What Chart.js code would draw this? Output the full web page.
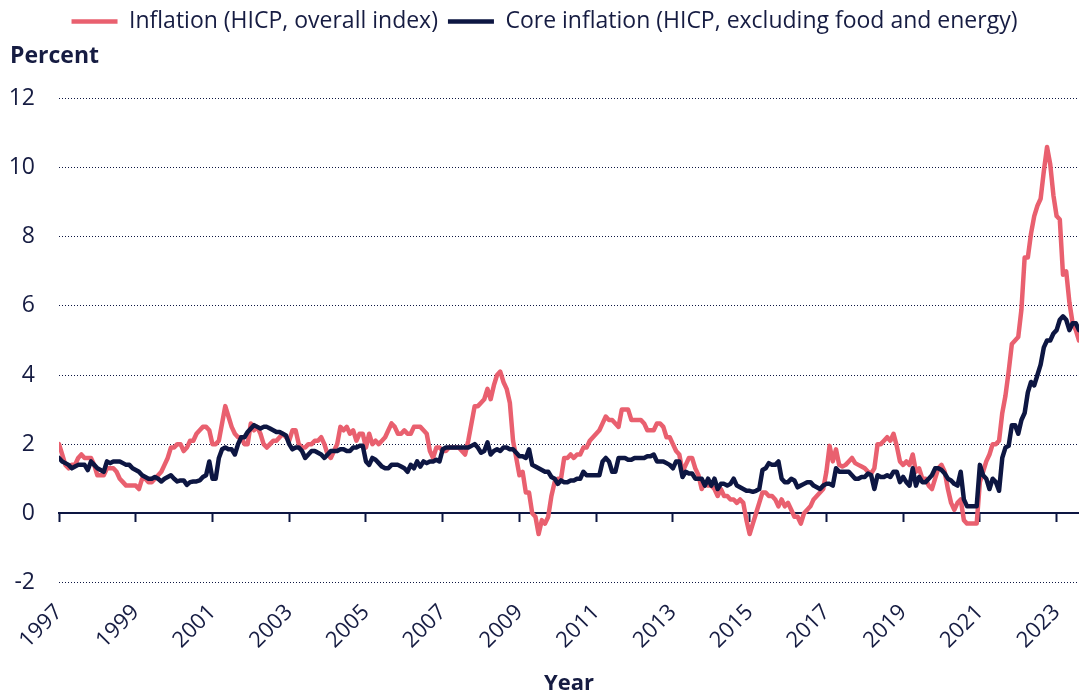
<!DOCTYPE html>
<html>
<head>
<meta charset="utf-8">
<script src="https://cdn.jsdelivr.net/npm/chart.js@4.4.0/dist/chart.umd.min.js"></script>
<style>
  html, body { margin: 0; padding: 0; background: #ffffff; }
  #wrap { width: 1079px; height: 693px; }
</style>
</head>
<body>
<div id="wrap"><canvas id="chart" width="1079" height="693"></canvas></div>
<script>
// monthly series, Jan 1997 .. Aug 2023
const startYear = 1997;
const tickYears = [1997, 1999, 2001, 2003, 2005, 2007, 2009, 2011, 2013, 2015, 2017, 2019, 2021, 2023];

// Inflation (HICP, overall index), %
const headline = [
  2.0, 1.7, 1.4, 1.3, 1.4, 1.4, 1.6, 1.7, 1.6, 1.6, 1.6, 1.4,   // 1997
  1.1, 1.1, 1.1, 1.3, 1.3, 1.3, 1.2, 1.0, 0.9, 0.8, 0.8, 0.8,   // 1998
  0.8, 0.7, 1.0, 1.0, 0.9, 0.9, 1.0, 1.1, 1.2, 1.4, 1.6, 1.9,   // 1999
  1.9, 2.0, 2.0, 1.8, 1.9, 2.1, 2.1, 2.3, 2.4, 2.5, 2.5, 2.4,   // 2000
  2.0, 2.0, 2.1, 2.6, 3.1, 2.8, 2.5, 2.3, 2.2, 2.2, 2.0, 2.0,   // 2001
  2.6, 2.4, 2.5, 2.3, 2.0, 1.9, 2.0, 2.1, 2.1, 2.2, 2.3, 2.2,   // 2002
  2.1, 2.4, 2.4, 2.0, 1.9, 1.9, 2.0, 2.0, 2.1, 2.1, 2.2, 2.0,   // 2003
  1.7, 1.6, 1.8, 2.0, 2.5, 2.4, 2.5, 2.3, 2.4, 2.1, 2.3, 2.3,   // 2004
  1.9, 2.3, 2.0, 2.1, 2.0, 2.1, 2.2, 2.4, 2.6, 2.5, 2.3, 2.3,   // 2005
  2.4, 2.3, 2.3, 2.5, 2.5, 2.5, 2.4, 2.3, 1.8, 1.6, 1.9, 1.9,   // 2006
  1.8, 1.8, 1.9, 1.9, 1.9, 1.9, 1.8, 1.7, 2.1, 2.6, 3.1, 3.1,   // 2007
  3.2, 3.3, 3.6, 3.3, 3.7, 4.0, 4.1, 3.8, 3.6, 3.2, 2.1, 1.6,   // 2008
  1.1, 1.2, 0.6, 0.6, 0.0, -0.1, -0.6, -0.2, -0.3, -0.1, 0.5, 0.9, // 2009
  1.0, 1.0, 1.6, 1.6, 1.7, 1.6, 1.7, 1.7, 1.9, 1.9, 2.1, 2.2,   // 2010
  2.3, 2.4, 2.6, 2.8, 2.7, 2.7, 2.6, 2.5, 3.0, 3.0, 3.0, 2.7,   // 2011
  2.7, 2.7, 2.7, 2.6, 2.4, 2.4, 2.4, 2.6, 2.6, 2.5, 2.2, 2.2,   // 2012
  2.0, 1.8, 1.7, 1.2, 1.4, 1.6, 1.6, 1.3, 1.1, 0.7, 0.9, 0.8,   // 2013
  0.8, 0.7, 0.5, 0.7, 0.5, 0.5, 0.4, 0.4, 0.3, 0.4, 0.3, -0.2,  // 2014
  -0.6, -0.3, 0.0, 0.3, 0.6, 0.6, 0.5, 0.5, 0.4, 0.2, 0.4, 0.2, // 2015
  0.3, 0.1, -0.1, -0.1, -0.3, 0.0, 0.1, 0.2, 0.4, 0.5, 0.6, 0.7, // 2016
  1.2, 1.95, 1.5, 1.85, 1.4, 1.35, 1.4, 1.5, 1.6, 1.45, 1.4, 1.35, // 2017
  1.3, 1.2, 1.15, 1.3, 2.0, 2.0, 2.1, 2.2, 2.1, 2.3, 1.95, 1.5, // 2018
  1.4, 1.5, 1.4, 1.7, 1.2, 1.3, 1.0, 1.0, 0.8, 0.7, 1.0, 1.3,   // 2019
  1.4, 1.2, 0.7, 0.3, 0.1, 0.3, 0.4, -0.2, -0.3, -0.3, -0.3, -0.3, // 2020
  0.9, 1.2, 1.5, 1.7, 2.0, 2.0, 2.1, 2.9, 3.4, 4.1, 4.9, 5.0,   // 2021
  5.1, 5.9, 7.4, 7.4, 8.1, 8.6, 8.9, 9.1, 9.9, 10.6, 10.1, 9.2, // 2022
  8.6, 8.5, 6.9, 7.0, 6.1, 5.5, 5.3, 5.0                        // 2023
];

// Core inflation (HICP, excluding food and energy), %
const core = [
  1.6, 1.5, 1.45, 1.4, 1.3, 1.35, 1.4, 1.4, 1.4, 1.25, 1.5, 1.4,     // 1997
  1.3, 1.25, 1.2, 1.5, 1.45, 1.5, 1.5, 1.5, 1.45, 1.4, 1.4, 1.3,     // 1998
  1.25, 1.2, 1.1, 1.05, 1.0, 1.0, 1.05, 1.0, 0.92, 1.0, 1.05, 1.1,   // 1999
  1.0, 0.92, 0.95, 0.95, 0.82, 0.9, 0.92, 0.92, 0.95, 1.05, 1.1, 1.5, // 2000
  1.0, 1.0, 1.6, 1.85, 1.9, 1.85, 1.85, 1.7, 2.0, 2.2, 2.2, 2.35,    // 2001
  2.45, 2.55, 2.5, 2.45, 2.5, 2.5, 2.45, 2.4, 2.35, 2.35, 2.3, 2.25, // 2002
  2.0, 1.85, 1.9, 1.9, 1.8, 1.6, 1.7, 1.8, 1.8, 1.75, 1.7, 1.6,      // 2003
  1.7, 1.8, 1.8, 1.8, 1.85, 1.85, 1.8, 1.8, 1.9, 1.9, 1.95, 1.95,    // 2004
  1.5, 1.4, 1.6, 1.55, 1.45, 1.35, 1.3, 1.3, 1.4, 1.4, 1.4, 1.35,    // 2005
  1.3, 1.2, 1.4, 1.3, 1.5, 1.35, 1.5, 1.45, 1.5, 1.5, 1.55, 1.5,     // 2006
  1.85, 1.9, 1.9, 1.9, 1.9, 1.9, 1.9, 1.9, 1.9, 1.95, 2.0, 1.9,      // 2007
  1.75, 1.8, 2.05, 1.7, 1.8, 1.85, 1.8, 1.9, 1.9, 1.85, 1.85, 1.75,  // 2008
  1.65, 1.65, 1.6, 1.85, 1.4, 1.35, 1.3, 1.25, 1.2, 1.2, 1.05, 1.0,  // 2009
  0.85, 0.95, 0.9, 0.9, 0.95, 0.95, 1.0, 1.0, 1.2, 1.1, 1.1, 1.1,    // 2010
  1.1, 1.1, 1.5, 1.6, 1.5, 1.2, 1.2, 1.6, 1.6, 1.6, 1.55, 1.55,      // 2011
  1.6, 1.6, 1.6, 1.6, 1.65, 1.65, 1.7, 1.5, 1.5, 1.5, 1.45, 1.4,     // 2012
  1.3, 1.5, 1.5, 1.05, 1.2, 1.15, 1.15, 1.0, 1.0, 1.0, 0.8, 1.0,     // 2013
  0.8, 1.0, 0.7, 0.85, 0.85, 0.8, 0.85, 1.0, 0.8, 0.75, 0.7, 0.65,   // 2014
  0.65, 0.62, 0.65, 0.7, 1.25, 1.3, 1.45, 1.4, 1.4, 1.5, 1.0, 0.9,   // 2015
  0.9, 1.0, 0.95, 0.75, 0.8, 0.85, 0.9, 0.9, 0.8, 0.75, 0.7, 0.8,    // 2016
  0.85, 0.85, 0.8, 1.3, 1.2, 1.2, 1.2, 1.2, 1.1, 1.0, 1.0, 1.05,     // 2017
  1.05, 1.15, 1.1, 0.7, 1.1, 1.05, 1.05, 1.1, 1.05, 1.2, 1.2, 0.9,   // 2018
  1.05, 0.9, 0.8, 1.3, 0.8, 1.05, 0.9, 0.9, 1.0, 1.1, 1.3, 1.3,      // 2019
  1.25, 1.15, 1.0, 0.95, 0.85, 0.8, 1.2, 0.4, 0.2, 0.2, 0.2, 0.2,    // 2020
  1.4, 1.1, 1.0, 0.7, 1.0, 0.9, 0.65, 1.6, 1.9, 1.95, 2.55, 2.55,    // 2021
  2.3, 2.7, 2.9, 3.5, 3.8, 3.7, 4.0, 4.3, 4.8, 5.0, 5.0, 5.2,        // 2022
  5.3, 5.6, 5.7, 5.6, 5.3, 5.5, 5.5, 5.3                             // 2023
];

const pink = '#e9606f';
const navy = '#0d1642';
const textColor = '#161c42';

const toPoints = arr => arr.map((v, i) => ({ x: startYear + i / 12, y: v }));
const xMax = startYear + (headline.length - 1) / 12;
const setYearTicks = axis => { axis.ticks = tickYears.map(v => ({ value: v })); };

Chart.defaults.font.family = '"Open Sans", sans-serif';
Chart.defaults.font.size = 23;
Chart.defaults.color = textColor;

const ctx = document.getElementById('chart').getContext('2d');
new Chart(ctx, {
    type: 'line',
    data: {
        datasets: [{
            label: 'Inflation (HICP, overall index)',
            data: toPoints(headline),
            borderColor: pink,
            backgroundColor: pink,
            borderWidth: 4.5,
            borderCapStyle: 'round',
            borderJoinStyle: 'round',
            pointRadius: 0,
            order: 1
        }, {
            label: 'Core inflation (HICP, excluding food and energy)',
            data: toPoints(core),
            borderColor: navy,
            backgroundColor: navy,
            borderWidth: 4.5,
            borderCapStyle: 'round',
            borderJoinStyle: 'round',
            pointRadius: 0,
            order: 0
        }]
    },
    options: {
        responsive: false,
        animation: false,
        devicePixelRatio: 1,
        layout: { padding: { left: 10, right: 0, top: 0, bottom: -4 } },
        plugins: {
            legend: {
                position: 'top',
                labels: {
                    usePointStyle: true,
                    pointStyle: 'line',
                    pointStyleWidth: 46,
                    padding: 10,
                    color: textColor,
                    sort: (a, b) => a.datasetIndex - b.datasetIndex
                }
            },
            title: {
                display: true,
                text: 'Percent',
                align: 'start',
                weight: 500,
                color: textColor,
                font: { size: 23, weight: 'bold' },
                padding: { top: 0, bottom: 28 }
            },
            tooltip: { enabled: false }
        },
        scales: {
            x: {
                type: 'linear',
                min: startYear,
                max: xMax,
                afterBuildTicks: setYearTicks,
                afterFit: s => { s.paddingLeft = 0; s.paddingRight = 0; },
                grid: { display: false, drawTicks: false },
                border: { display: false },
                ticks: {
                    minRotation: 45,
                    maxRotation: 45,
                    padding: 17,
                    font: { size: 22 },
                    callback: v => String(v)
                },
                title: {
                    display: true,
                    text: 'Year',
                    color: textColor,
                    font: { size: 22, weight: 'bold' },
                    padding: { top: 0, bottom: 0 }
                }
            },
            // zero line with year tick marks
            x0: {
                type: 'linear',
                position: { y: 0 },
                min: startYear,
                max: xMax,
                afterBuildTicks: setYearTicks,
                ticks: { display: false },
                grid: {
                    drawOnChartArea: false,
                    drawTicks: true,
                    tickLength: 8,
                    tickWidth: 2,
                    tickColor: navy
                },
                border: { display: true, color: navy, width: 2 }
            },
            y: {
                min: -2,
                max: 12,
                afterFit: s => { s.width = 49; },
                ticks: { stepSize: 2, padding: 24 },
                grid: {
                    color: c => c.tick.value === 0 ? 'rgba(0,0,0,0)' : navy,
                    lineWidth: 1,
                    drawTicks: false
                },
                border: { display: false, dash: [1, 2] }
            }
        }
    }
});
</script>
</body>
</html>
